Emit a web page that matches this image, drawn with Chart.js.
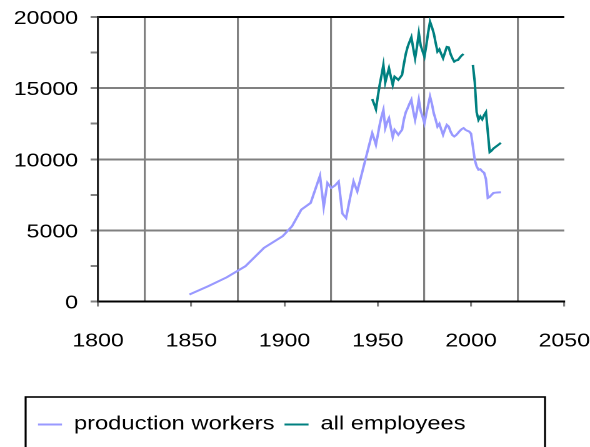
<!DOCTYPE html>
<html>
<head>
<meta charset="utf-8">
<script src="https://cdn.jsdelivr.net/npm/chart.js"></script>
<style>
  html, body { margin: 0; padding: 0; background: #fff; overflow: hidden; }
  /* the reference is stretched sideways, so the chart is drawn narrow and widened */
  #wrap { width: 472px; height: 447px; transform: scaleX(1.25); transform-origin: 0 0; }
</style>
</head>
<body>
<div id="wrap"><canvas id="chart" width="472" height="447"></canvas></div>
<script>
// production workers, census years then yearly
const prodYears = [1849, 1859, 1869, 1879, 1889, 1899, 1904, 1909, 1914, 1919,
  1921, 1923, 1925, 1927, 1929, 1931, 1933, 1935, 1937, 1939,
  1947, 1948, 1949, 1950, 1951, 1952, 1953, 1954, 1955, 1956,
  1957, 1958, 1959, 1960, 1961, 1962, 1963, 1964, 1965, 1966,
  1967, 1968, 1969, 1970, 1971, 1972, 1973, 1974, 1975, 1976,
  1977, 1978, 1979, 1980, 1981, 1982, 1983, 1984, 1985, 1986,
  1987, 1988, 1989, 1990, 1991, 1992, 1993, 1994, 1995, 1996,
  1997, 1998, 1999, 2000, 2001, 2002, 2003, 2004, 2005, 2006,
  2007, 2008, 2009, 2010, 2011, 2012, 2013, 2014, 2015, 2016];
const prodWorkers = [490, 1075, 1700, 2480, 3770, 4590, 5290, 6460, 6930, 8840,
  6650, 8330, 7980, 8150, 8440, 6180, 5870, 7200, 8440, 7740,
  11840, 11450, 11020, 11700, 12420, 13000, 13470, 12190, 12600, 12890,
  12200, 11560, 12070, 11900, 11720, 11900, 12070, 12800, 13300, 13590,
  13900, 14180, 13400, 12770, 13400, 14180, 13400, 13000, 12540, 13200,
  13800, 14410, 13900, 13240, 12800, 12300, 12490, 12100, 11720, 12100,
  12420, 12300, 11950, 11700, 11600, 11700, 11840, 12000, 12120, 12190,
  12070, 12000, 11950, 11800, 10900, 9950, 9500, 9260, 9300, 9150,
  9050, 8600, 7280, 7350, 7500, 7630, 7650, 7660, 7670, 7680];

// all employees, gap 1997-2000
const empYears = [1947, 1948, 1949, 1950, 1951, 1952, 1953, 1954, 1955, 1956,
  1957, 1958, 1959, 1960, 1961, 1962, 1963, 1964, 1965, 1966,
  1967, 1968, 1969, 1970, 1971, 1972, 1973, 1974, 1975, 1976,
  1977, 1978, 1979, 1980, 1981, 1982, 1983, 1984, 1985, 1986,
  1987, 1988, 1989, 1990, 1991, 1992, 1993, 1994, 1995, 1996,
  1997, 1998, 1999, 2000, 2001, 2002, 2003, 2004, 2005, 2006,
  2007, 2008, 2009, 2010, 2011, 2012, 2013, 2014, 2015, 2016];
const allEmployees = [14230, 13900, 13520, 14400, 15230, 15900, 16630, 15390, 15900, 16400,
  15800, 15230, 15810, 15700, 15580, 15750, 15930, 16700, 17400, 17900,
  18250, 18580, 17800, 17100, 17900, 18860, 18000, 17600, 17210, 18000,
  18900, 19670, 19300, 18860, 18200, 17570, 17730, 17400, 17100, 17500,
  17900, 17870, 17400, 17100, 16860, 16950, 16980, 17150, 17300, 17400,
  null, null, null, null, 16630, 15400, 13300, 12770, 13000, 12800,
  13100, 13310, 11900, 10500, 10600, 10750, 10850, 10950, 11050, 11150];

const xMin = 1800, xMax = 2050, xStep = 25;
const yMin = 0, yMax = 20000, yStep = 2500;

const FAMILY = '"Liberation Sans", Arial, sans-serif';
const GRID = '#808080';

// move the legend row right, inside its frame
const legendShift = {
  id: 'legendShift',
  afterLayout(chart) {
    if (chart.legend) {
      chart.legend.left += 21.4;
      chart.legend.right += 21.4;
    }
  }
};

// border around the legend
const legendFrame = {
  id: 'legendFrame',
  afterDraw(chart) {
    const ctx = chart.ctx;
    ctx.save();
    ctx.strokeStyle = '#000';
    ctx.lineWidth = 1.6;
    ctx.strokeRect(20.5, 397, 415.5, 60);
    ctx.restore();
  }
};

new Chart(document.getElementById('chart'), {
  type: 'line',
  data: {
    datasets: [
      {
        label: 'production workers',
        data: prodYears.map((x, i) => ({ x: x, y: prodWorkers[i] })),
        borderColor: '#9999ff',
        backgroundColor: '#9999ff',
        borderWidth: 2,
        pointRadius: 0,
        tension: 0
      },
      {
        label: 'all employees',
        data: empYears.map((x, i) => ({ x: x, y: allEmployees[i] })),
        borderColor: '#008080',
        backgroundColor: '#008080',
        borderWidth: 2,
        pointRadius: 0,
        tension: 0,
        spanGaps: false
      }
    ]
  },
  options: {
    responsive: false,
    animation: false,
    devicePixelRatio: 2,
    layout: { padding: { left: 1, top: 17, right: 0, bottom: 3 } },
    plugins: {
      tooltip: { enabled: false },
      legend: {
        position: 'bottom',
        align: 'start',
        labels: {
          usePointStyle: false,
          boxWidth: 19.2,
          boxHeight: 0,
          padding: 8,
          color: '#000',
          font: { family: FAMILY, size: 19 }
        }
      }
    },
    scales: {
      x: {
        type: 'linear',
        min: xMin,
        max: xMax,
        afterFit: (axis) => { axis.height = 105.5; },
        ticks: {
          stepSize: xStep,
          autoSkip: false,
          maxRotation: 0,
          padding: 0,
          color: '#000',
          font: { family: FAMILY, size: 18.5, lineHeight: 3.78 },
          callback: (v) => (v % 50 === 0 ? String(v) : '')
        },
        grid: {
          lineWidth: 1.6,
          tickLength: 5,
          color: (c) => (c.tick && c.tick.value % 50 === 25 ? GRID : 'rgba(0,0,0,0)'),
          tickColor: (c) => (c.tick && c.tick.value % 50 === 0 ? GRID : 'rgba(0,0,0,0)')
        },
        border: { color: '#000', width: 2 }
      },
      y: {
        min: yMin,
        max: yMax,
        ticks: {
          stepSize: yStep,
          padding: 10,
          labelOffset: 2,
          color: '#000',
          font: { family: FAMILY, size: 18.5, lineHeight: 0.6 },
          callback: (v) => (v % 5000 === 0 ? String(v) : '')
        },
        grid: {
          lineWidth: 2,
          tickLength: 6,
          color: (c) => {
            const v = c.tick ? c.tick.value : 0;
            if (v === yMax) return '#000';
            if (v > 0 && v % 5000 === 0) return GRID;
            return 'rgba(0,0,0,0)';
          },
          tickColor: GRID
        },
        border: { color: '#222', width: 1.6 }
      }
    }
  },
  plugins: [legendShift, legendFrame]
});
</script>
</body>
</html>
